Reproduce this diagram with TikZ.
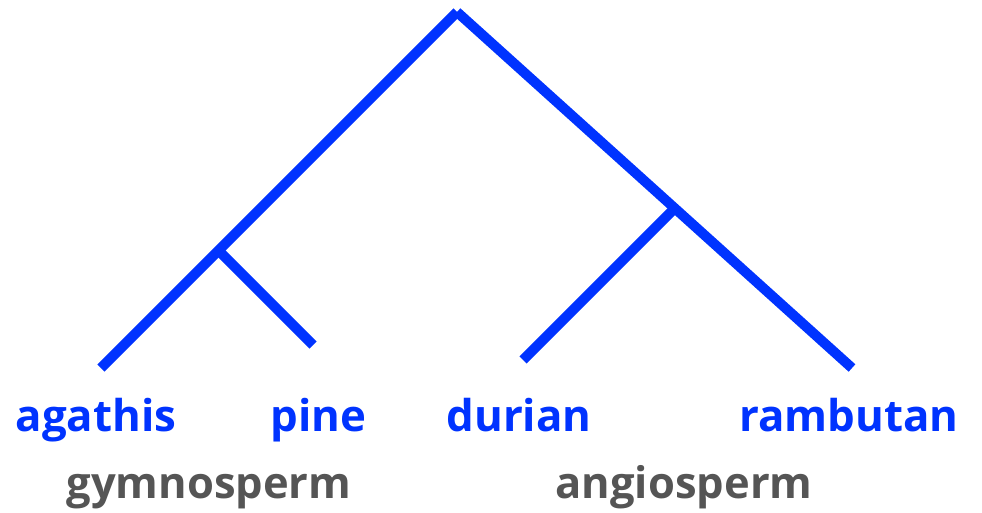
\documentclass[tikz,border=0pt]{standalone}
\usepackage{fontspec}
\setmainfont{Open Sans}
\definecolor{treeblue}{RGB}{0,51,255}
\definecolor{labgray}{RGB}{85,85,85}
\begin{document}
\begin{tikzpicture}[x=1pt,y=-1pt,
  branch/.style={draw=treeblue, line width=10pt, line cap=butt},
  leaf/.style={anchor=base, inner sep=0pt, text=treeblue, font=\fontsize{43.8}{44}\selectfont\bfseries},
  group/.style={anchor=base, inner sep=0pt, text=labgray, font=\fontsize{43.5}{44}\selectfont\bfseries}]
\useasboundingbox (0,0) rectangle (982,513);
\coordinate (root) at (457,12);
\coordinate (gym) at (218.5,250.5);
\coordinate (ang) at (674.8,208.2);
\coordinate (agathisEnd) at (101,368);
\coordinate (pineEnd) at (313,345);
\coordinate (durianEnd) at (523,360);
\coordinate (rambutanEnd) at (852,368);
\draw[branch] (root) -- (agathisEnd);
\draw[branch] (root) -- (rambutanEnd);
\draw[branch] (gym) -- (pineEnd);
\draw[branch] (ang) -- (durianEnd);
\node[leaf] (agathis) at (96,431) {agathis};
\node[leaf] (pine) at (318.5,431) {pine};
\node[leaf] (durian) at (519,431) {durian};
\node[leaf] (rambutan) at (849,431) {rambutan};
\node[group] (gymnosperm) at (209,498) {gymnosperm};
\node[group] (angiosperm) at (684,498) {angiosperm};
\end{tikzpicture}
\end{document}
